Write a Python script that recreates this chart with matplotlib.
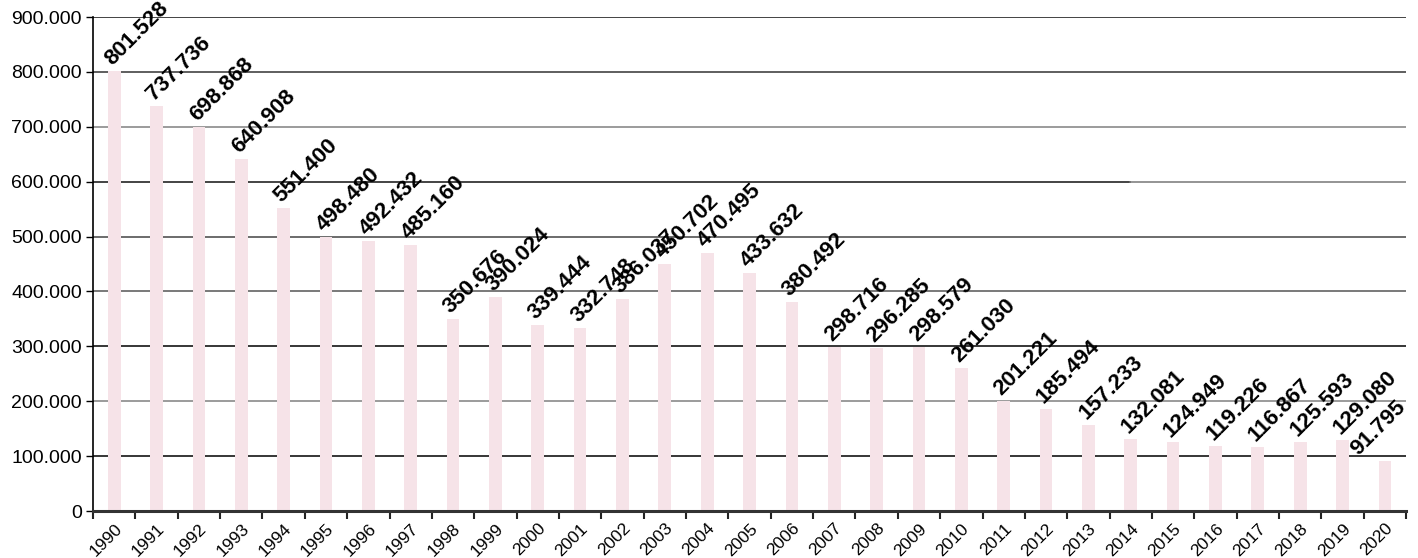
import matplotlib
matplotlib.use("Agg")
import matplotlib.pyplot as plt
from matplotlib.ticker import FuncFormatter, FixedLocator
import numpy as np

plt.rcParams['font.family'] = ['Liberation Sans', 'DejaVu Sans']

years = [str(y) for y in range(1990, 2021)]
values = [801528, 737736, 698868, 640908, 551400, 498480, 492432, 485160,
          350676, 390024, 339444, 332748, 386037, 450702, 470495, 433632,
          380492, 298716, 296285, 298579, 261030, 201221, 185494, 157233,
          132081, 124949, 119226, 116867, 125593, 129080, 91795]

y_ticks = [0, 100000, 200000, 300000, 400000, 500000, 600000, 700000, 800000, 900000]
grid_colors = {100000: '#000000', 200000: '#808080', 300000: '#000000',
               400000: '#555555', 500000: '#444444', 600000: '#222222',
               700000: '#808080', 800000: '#333333', 900000: '#111111'}


def dotted_thousands(v, _pos=None):
    return f"{int(round(v)):,}".replace(",", ".")


fig = plt.figure(figsize=(14.18, 5.58), dpi=100)
ax = fig.add_axes([0.0656, 0.0842, 0.926, 0.8853])

x = np.arange(len(years))
ax.bar(x, values, width=0.3, color='#f6e3e8', zorder=2)

# horizontal grid lines
for level, col in grid_colors.items():
    if level == 600000:
        ax.axhline(level, xmin=0, xmax=0.79, color='#111111', lw=1.1, zorder=1)
        ax.axhline(level, xmin=0.79, xmax=1, color='#777777', lw=1.1, zorder=1)
    else:
        ax.axhline(level, color=col, lw=1.1, zorder=1)

ax.set_xlim(-0.5, len(years) - 0.5)
ax.set_ylim(0, 900000)
ax.set_yticks(y_ticks)
ax.yaxis.set_major_formatter(FuncFormatter(dotted_thousands))
ax.tick_params(axis='y', labelsize=14, length=5, width=1, direction='out', pad=3)

# year labels centred under each bar; ticks sit on category boundaries
ax.set_xticks(x)
ax.set_xticklabels(years)
ax.tick_params(axis='x', which='major', length=0, pad=7)
ax.xaxis.set_minor_locator(FixedLocator(np.arange(len(years) + 1) - 0.5))
ax.tick_params(axis='x', which='minor', length=6, width=1.5, color='#222222', direction='out')
for lbl in ax.get_xticklabels():
    lbl.set_rotation(45)
    lbl.set_rotation_mode('anchor')
    lbl.set_ha('right')
    lbl.set_va('top')
    lbl.set_fontsize(12.5)

for side in ('top', 'right'):
    ax.spines[side].set_visible(False)
ax.spines['left'].set_linewidth(1.2)
ax.spines['left'].set_color('#000000')
ax.spines['bottom'].set_linewidth(2.2)
ax.spines['bottom'].set_color('#333333')
ax.spines['bottom'].set_zorder(3)

# value labels above each bar; the last one is pulled left to stay inside the figure
for xi, v in zip(x, values):
    dx = -17 if xi == len(years) - 1 else 1
    ax.annotate(dotted_thousands(v), xy=(xi, v), xytext=(dx, 1),
                textcoords='offset points', rotation=45, rotation_mode='anchor',
                ha='left', va='bottom', fontsize=16, fontweight='bold',
                color='#000000', zorder=4, annotation_clip=False)

fig.savefig('out.png', dpi=100, facecolor='white')
